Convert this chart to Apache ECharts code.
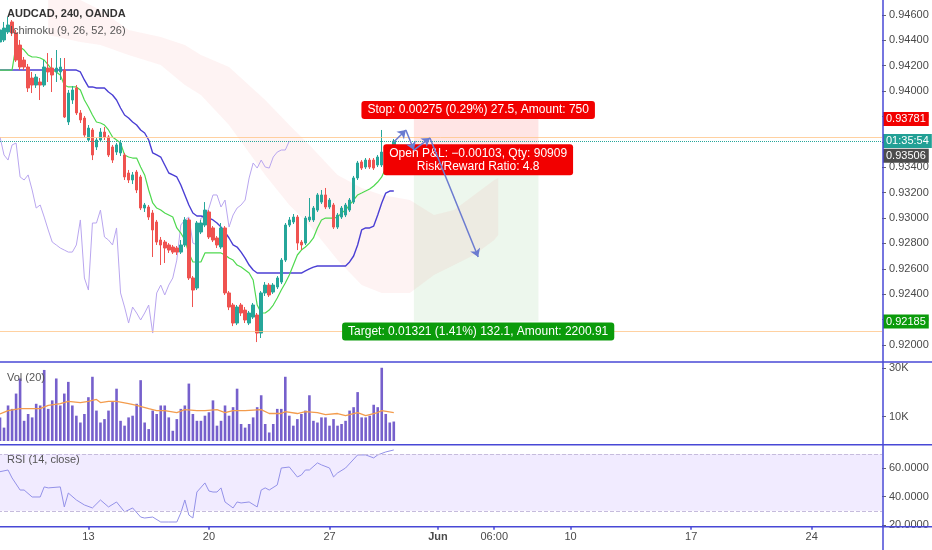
<!DOCTYPE html>
<html><head><meta charset="utf-8">
<script src="https://cdn.jsdelivr.net/npm/echarts@6/dist/echarts.min.js"></script>
<style>html,body{margin:0;padding:0;background:#fff}#c{width:932px;height:550px}</style>
</head><body><div id="c"></div>
<script>
// ---------- data (AUDCAD 240, OANDA) ----------
const opens = [0.94387,0.94403,0.94466,0.94545,0.94458,0.94363,0.94245,0.94190,0.94103,0.94048,
 0.94072,0.94048,0.94182,0.94182,0.94151,0.94151,0.94166,0.93757,0.93930,0.94025,
 0.93828,0.93788,0.93615,0.93694,0.93560,0.93615,0.93678,0.93639,0.93560,0.93520,
 0.93513,0.93497,0.93355,0.93300,0.93363,0.93324,0.93079,0.93087,0.93040,0.92969,
 0.92827,0.92811,0.92788,0.92772,0.92764,0.92732,0.92788,0.92985,0.92528,0.92449,
 0.92890,0.92945,0.93048,0.92922,0.92843,0.92772,0.92922,0.92410,0.92315,0.92173,
 0.92315,0.92275,0.92173,0.92220,0.92236,0.92094,0.92410,0.92472,0.92417,0.92457,
 0.92496,0.92669,0.92945,0.92969,0.93008,0.92811,0.92803,0.92985,0.92985,0.93063,
 0.93126,0.93182,0.93087,0.93103,0.92929,0.93008,0.93024,0.93063,0.93126,0.93316,
 0.93442,0.93402,0.93457,0.93457,0.93418,0.93418,0.93473,0.93497,0.93560];
const closes = [0.94482,0.94497,0.94521,0.94458,0.94245,0.94190,0.94190,0.94025,0.94048,0.94111,
 0.94048,0.94190,0.94151,0.94127,0.94182,0.94190,0.93796,0.93985,0.94009,0.93828,
 0.93773,0.93654,0.93709,0.93497,0.93615,0.93678,0.93639,0.93497,0.93457,0.93576,
 0.93591,0.93324,0.93300,0.93340,0.93221,0.93079,0.93103,0.93008,0.92906,0.92811,
 0.92788,0.92764,0.92748,0.92732,0.92732,0.92788,0.92985,0.92528,0.92433,0.92961,
 0.92961,0.93063,0.92851,0.92827,0.92788,0.92922,0.92410,0.92299,0.92173,0.92299,
 0.92252,0.92197,0.92252,0.92315,0.92094,0.92410,0.92472,0.92394,0.92472,0.92528,
 0.92669,0.92945,0.92985,0.93008,0.92803,0.92788,0.93000,0.93008,0.93079,0.93182,
 0.93182,0.93087,0.93142,0.92929,0.93024,0.93079,0.93103,0.93142,0.93316,0.93434,
 0.93394,0.93457,0.93402,0.93394,0.93481,0.93520,0.93536,0.93536,0.93607];
const highs = [0.94521,0.94545,0.94584,0.94560,0.94482,0.94403,0.94269,0.94214,0.94151,0.94135,
 0.94103,0.94245,0.94300,0.94261,0.94324,0.94261,0.94261,0.94009,0.94040,0.94048,
 0.93851,0.93804,0.93733,0.93709,0.93631,0.93709,0.93717,0.93654,0.93576,0.93591,
 0.93615,0.93513,0.93379,0.93363,0.93379,0.93340,0.93119,0.93103,0.93063,0.92985,
 0.92851,0.92827,0.92803,0.92788,0.92780,0.92827,0.93008,0.93000,0.92543,0.92977,
 0.92985,0.93126,0.93063,0.92937,0.92858,0.92961,0.92937,0.92425,0.92331,0.92315,
 0.92331,0.92299,0.92268,0.92331,0.92252,0.92425,0.92496,0.92488,0.92488,0.92543,
 0.92685,0.92961,0.93008,0.93032,0.93024,0.92827,0.93016,0.93158,0.93095,0.93197,
 0.93221,0.93237,0.93158,0.93119,0.93040,0.93095,0.93119,0.93158,0.93332,0.93450,
 0.93457,0.93473,0.93473,0.93473,0.93497,0.93694,0.93552,0.93560,0.93623];
const lows = [0.94363,0.94387,0.94450,0.94434,0.94230,0.94166,0.94166,0.93993,0.93985,0.94025,
 0.93930,0.94033,0.94072,0.93993,0.94072,0.94088,0.93788,0.93733,0.93899,0.93812,
 0.93749,0.93639,0.93599,0.93457,0.93536,0.93599,0.93615,0.93481,0.93434,0.93497,
 0.93489,0.93300,0.93276,0.93268,0.93197,0.93063,0.93048,0.92985,0.92693,0.92788,
 0.92630,0.92646,0.92725,0.92717,0.92709,0.92717,0.92772,0.92512,0.92299,0.92433,
 0.92874,0.92929,0.92835,0.92811,0.92764,0.92756,0.92394,0.92275,0.92149,0.92157,
 0.92228,0.92173,0.92157,0.92205,0.92023,0.92055,0.92386,0.92378,0.92402,0.92441,
 0.92480,0.92654,0.92929,0.92953,0.92748,0.92748,0.92788,0.92969,0.92969,0.93048,
 0.93111,0.93071,0.93071,0.92914,0.92914,0.92993,0.93008,0.93048,0.93111,0.93300,
 0.93379,0.93387,0.93387,0.93379,0.93402,0.93402,0.93457,0.93481,0.93544];

// Ichimoku lines
const tenkan = [0.94166,0.94166,0.94166,0.94166,0.94363,0.94348,0.94324,0.94285,0.94269,0.94269,
 0.94261,0.94245,0.94206,0.94166,0.94151,0.94127,0.94048,0.94033,0.94033,0.94033,
 0.94009,0.93930,0.93875,0.93812,0.93757,0.93749,0.93733,0.93694,0.93639,0.93615,
 0.93591,0.93497,0.93481,0.93473,0.93473,0.93402,0.93340,0.93221,0.93119,0.93079,
 0.93063,0.93040,0.93024,0.93008,0.92922,0.92882,0.92827,0.92725,0.92654,0.92654,
 0.92654,0.92725,0.92725,0.92725,0.92725,0.92725,0.92709,0.92685,0.92669,0.92630,
 0.92614,0.92591,0.92567,0.92512,0.92315,0.92252,0.92252,0.92275,0.92315,0.92370,
 0.92433,0.92488,0.92551,0.92630,0.92709,0.92748,0.92772,0.92803,0.92843,0.92922,
 0.92985,0.93000,0.93000,0.93000,0.93008,0.93040,0.93063,0.93103,0.93142,0.93182,
 0.93197,0.93213,0.93229,0.93253,0.93284,0.93324,0.93394,0.93457,0.93497];
const kijun = [0.94166,0.94166,0.94166,0.94166,0.94166,0.94166,0.94166,0.94166,0.94166,0.94166,
 0.94166,0.94166,0.94166,0.94166,0.94166,0.94166,0.94166,0.94166,0.94166,0.94166,
 0.94151,0.94088,0.94033,0.94033,0.94025,0.94025,0.94025,0.93993,0.93970,0.93930,
 0.93867,0.93812,0.93788,0.93757,0.93733,0.93694,0.93670,0.93615,0.93513,0.93497,
 0.93481,0.93418,0.93355,0.93340,0.93324,0.93260,0.93182,0.93103,0.93040,0.93016,
 0.93016,0.93008,0.93000,0.92985,0.92961,0.92929,0.92890,0.92843,0.92788,0.92772,
 0.92732,0.92685,0.92630,0.92591,0.92567,0.92567,0.92567,0.92567,0.92567,0.92567,
 0.92567,0.92567,0.92567,0.92567,0.92567,0.92567,0.92583,0.92599,0.92614,0.92622,
 0.92622,0.92622,0.92622,0.92622,0.92622,0.92622,0.92622,0.92654,0.92701,0.92788,
 0.92906,0.92922,0.92922,0.92937,0.93024,0.93119,0.93197,0.93213,0.93213];
const chikouShift = 26;
const cloudIdx   = [12,20,25,32,40,46,50,57,66,72,77,84,90,95,102,108,113,118,123,124];
const cloudUpper = [0.94718,0.94718,0.94639,0.94482,0.94427,0.94363,0.94285,0.94190,0.93930,0.93733,
 0.93576,0.93340,0.93237,0.93182,0.93142,0.93024,0.93063,0.93182,0.93300,0.93316];
const cloudLower = [0.94442,0.94387,0.94363,0.94285,0.94206,0.94048,0.93970,0.93733,0.93340,0.93103,
 0.92945,0.92669,0.92472,0.92410,0.92410,0.92551,0.92630,0.92709,0.92827,0.92866];

// Volume
const volumes = [9700,5500,14600,13200,19500,25700,8300,11100,9700,15300,
 14600,29200,13200,16700,25700,14600,19500,24300,14600,10400,
 7600,11100,18000,26400,12500,7600,9000,12500,16000,21500,
 8300,6300,9700,10400,15300,25000,7600,4900,12500,11100,
 14600,14600,9700,4200,9000,13200,14600,23600,11100,8300,
 8300,10400,11800,16700,6300,8300,14600,10400,13900,21500,
 7000,5500,7000,9700,13900,18800,7000,3500,7000,13200,
 13200,26400,10400,6300,9000,11100,12500,18800,8300,7600,
 9700,9700,6300,9000,6300,7000,8300,12500,13900,20100,
 9700,9700,10400,14900,13900,30100,11100,7600,8000];
const volMaIdx = [0,2,5,7,10,12,15,17,20,22,24,25,27,29,32,34,37,39,41,44,46,49,51,54,56,58,61,65,67,70,71,74,76,79,81,84,86,89,91,94,95,98];
const volMaVal = [11100,12500,13300,13300,13300,14600,15400,16300,15800,16300,17100,15800,16300,16300,15400,14600,13300,12500,12500,11700,
 12900,12500,12500,12900,11700,12500,12500,12900,11300,11300,12100,11300,12100,11700,10800,11300,10400,11700,10400,11700,12500,11700];

// RSI (14, close)
const rsiIdx = [0,2,3,5,6,8,10,11,12,15,16,17,19,21,23,25,27,29,31,33,35,36,38,40,42,44,45,46,47,48,49,51,52,53,54,55,56,58,59,60,62,64,65,66,67,69,70,72,74,75,76,77,79,80,82,83,84,86,89,91,93,94,96,98];
const rsiVal = [57.5,58.7,53.1,44.6,44.6,39.7,39.7,46.8,46.1,46.8,32.7,42.5,37.6,34.1,32.0,37.6,32.7,36.2,29.2,32.0,
 25.6,24.9,25.6,22.1,22.1,22.1,28.5,37.6,27.0,24.9,43.2,49.6,43.9,43.2,43.2,46.1,36.2,32.0,36.2,35.5,
 36.2,32.7,44.6,46.1,44.6,48.2,60.1,60.8,53.8,55.2,58.7,58.7,63.7,62.3,60.1,53.8,56.6,60.1,69.3,69.3,
 67.2,69.3,71.4,72.8];

// Long position tool + forecast path
const stopPrice = 0.93781, entryPrice = 0.93506, targetPrice = 0.92185;
const toolStartIdx = 103, toolEndIdx = 134, toolLabelIdx = 119;
const stopText = 'Stop: 0.00275 (0.29%) 27.5, Amount: 750';
const pnlText = 'Open P&L: \u22120.00103, Qty: 90909\nRisk/Reward Ratio: 4.8';
const targetText = 'Target: 0.01321 (1.41%) 132.1, Amount: 2200.91';
const hLines = [0.93639, 0.92110];
const countdown = '01:35:54';
const pathIdx = [98, 101, 103, 107, 119];
const pathPrice = [0.93599, 0.93694, 0.93536, 0.93631, 0.92693];

// Axes
const SLOTS = 220;
const tickIdx = [22, 52, 82, 109, 123, 142, 172, 202];
const tickLabels = ['13', '20', '27', 'Jun', '06:00', '10', '17', '24'];
const priceTicks = [0.920,0.922,0.924,0.926,0.928,0.930,0.932,0.934,0.936,0.938,0.940,0.942,0.944,0.946];
const volTicks = [10000, 30000];
const rsiTicks = [20, 40, 60];

// ---------- chart ----------
const FONT = 'Liberation Sans, Arial, sans-serif';
const AX = '#4848d6';
const TXT = '#4a4a4a';
const cats = Array.from({length: SLOTS}, (_, i) => String(i));
const tickSet = new Set(tickIdx);
const candleData = opens.map((o, i) => [o, closes[i], lows[i], highs[i]]);
const chikou = closes.slice(chikouShift);

const chart = echarts.init(document.getElementById('c'), null, {renderer: 'canvas'});
const gridBase = {left: -2, right: 50, outerBoundsMode: 'none', containLabel: false};
const hiddenX = (g) => ({type: 'category', gridIndex: g, data: cats, boundaryGap: true,
  axisLine: {show: false}, axisTick: {show: false}, axisLabel: {show: false}, splitLine: {show: false}});
const yBase = (g, min, max, ticks, fmt) => ({
  type: 'value', gridIndex: g, position: 'right', min: min, max: max, scale: true,
  splitLine: {show: false}, axisLine: {show: false},
  axisTick: {show: true, length: 4, customValues: ticks, lineStyle: {color: '#666'}},
  axisLabel: {customValues: ticks, formatter: fmt, color: TXT, fontSize: 11, fontFamily: FONT, margin: 7}
});
const priceTag = (price, text, bg, offY) => ({
  yAxis: price, lineStyle: {color: 'rgba(0,0,0,0)', width: 0},
  label: {show: true, position: 'end', formatter: text, distance: 1, offset: [0, offY || 0],
    backgroundColor: bg, color: '#fff', fontSize: 11, fontFamily: FONT, padding: [2, 3, 1, 3], opacity: 1}
});
const toolLabel = (price, text, bg, offY) => ({
  coord: [toolLabelIdx, price], symbol: 'rect', symbolSize: 0,
  label: {show: true, position: 'inside', offset: [0, offY], formatter: text, color: '#fff',
    backgroundColor: bg, fontSize: 12, fontFamily: FONT, lineHeight: 13, align: 'center',
    padding: [3, 6, 2, 6], borderRadius: 3}
});

chart.setOption({
  animation: false,
  backgroundColor: '#ffffff',
  textStyle: {fontFamily: FONT},
  title: [
    {text: 'AUDCAD, 240, OANDA', left: 7, top: 8, padding: 0, textStyle: {fontSize: 11, fontWeight: 'bold', color: '#333', fontFamily: FONT}},
    {text: 'Ichimoku (9, 26, 52, 26)', left: 10, top: 25, padding: 0, textStyle: {fontSize: 11, fontWeight: 'normal', color: '#555', fontFamily: FONT}},
    {text: 'Vol (20)', left: 7, top: 372, padding: 0, textStyle: {fontSize: 11, fontWeight: 'normal', color: '#555', fontFamily: FONT}},
    {text: 'RSI (14, close)', left: 7, top: 454, padding: 0, textStyle: {fontSize: 11, fontWeight: 'normal', color: '#555', fontFamily: FONT}}
  ],
  grid: [
    Object.assign({top: 0, height: 362}, gridBase),
    Object.assign({top: 362, height: 82.7}, gridBase),
    Object.assign({top: 444.7, height: 82}, gridBase)
  ],
  xAxis: [
    hiddenX(0), hiddenX(1),
    {type: 'category', gridIndex: 2, data: cats, boundaryGap: true,
      axisLine: {show: false}, splitLine: {show: false},
      axisTick: {show: true, alignWithLabel: true, length: 3, interval: (i) => tickSet.has(i), lineStyle: {color: AX, width: 1.5}},
      axisLabel: {interval: (i) => tickSet.has(i), margin: 5, color: TXT, fontSize: 11, fontFamily: FONT,
        formatter: (v) => { const k = tickIdx.indexOf(Number(v)); const t = k >= 0 ? tickLabels[k] : ''; return t === 'Jun' ? '{b|' + t + '}' : t; },
        rich: {b: {fontWeight: 'bold', fontSize: 11, color: TXT, fontFamily: FONT}}}}
  ],
  yAxis: [
    yBase(0, 0.91866, 0.94718, priceTicks, (v) => v.toFixed(5)),
    yBase(1, -1520, 32470, volTicks, (v) => Math.round(v / 1000) + 'K'),
    yBase(2, 18.8, 76.5, rsiTicks, (v) => v.toFixed(4))
  ],
  graphic: [
    {type: 'line', shape: {x1: 883, y1: 0, x2: 883, y2: 550}, style: {stroke: AX, lineWidth: 1.5}, z: 50},
    {type: 'line', shape: {x1: 0, y1: 362, x2: 932, y2: 362}, style: {stroke: AX, lineWidth: 1.5}, z: 50},
    {type: 'line', shape: {x1: 0, y1: 444.7, x2: 932, y2: 444.7}, style: {stroke: AX, lineWidth: 1.5}, z: 50},
    {type: 'line', shape: {x1: 0, y1: 526.7, x2: 932, y2: 526.7}, style: {stroke: AX, lineWidth: 1.5}, z: 50}
  ],
  series: [
    { // Kumo cloud
      type: 'custom', name: 'cloud', xAxisIndex: 0, yAxisIndex: 0, z: 1, silent: true,
      data: [[cloudIdx[0], cloudUpper[0]]],
      renderItem: (params, api) => {
        const pts = [];
        for (let k = 0; k < cloudIdx.length; k++) pts.push(api.coord([cloudIdx[k], cloudUpper[k]]));
        for (let k = cloudIdx.length - 1; k >= 0; k--) pts.push(api.coord([cloudIdx[k], cloudLower[k]]));
        return {type: 'polygon', shape: {points: pts}, style: {fill: 'rgba(240,70,70,0.065)'}};
      },
      markArea: {silent: true, data: [
        [{xAxis: toolStartIdx, yAxis: stopPrice, itemStyle: {color: 'rgba(255,0,0,0.10)'}}, {xAxis: toolEndIdx, yAxis: entryPrice}],
        [{xAxis: toolStartIdx, yAxis: entryPrice, itemStyle: {color: 'rgba(0,140,0,0.07)'}}, {xAxis: toolEndIdx, yAxis: targetPrice}]
      ]}
    },
    {type: 'line', name: 'Lagging', xAxisIndex: 0, yAxisIndex: 0, z: 3, data: chikou, showSymbol: false, symbol: 'none',
      lineStyle: {color: '#b9a6ef', width: 1}},
    {type: 'line', name: 'Base', xAxisIndex: 0, yAxisIndex: 0, z: 3, data: kijun, showSymbol: false, symbol: 'none',
      lineStyle: {color: '#4b3fd4', width: 1.4}},
    {type: 'line', name: 'Conversion', xAxisIndex: 0, yAxisIndex: 0, z: 3, data: tenkan, showSymbol: false, symbol: 'none',
      lineStyle: {color: '#4fd94f', width: 1.2}},
    {type: 'candlestick', name: 'AUDCAD', xAxisIndex: 0, yAxisIndex: 0, z: 4, data: candleData, barWidth: 3,
      itemStyle: {color: '#26a69a', color0: '#ef5350', borderColor: '#26a69a', borderColor0: '#ef5350', borderWidth: 1}},
    {type: 'line', name: 'marks', xAxisIndex: 0, yAxisIndex: 0, z: 6, silent: true,
      data: [[closes.length - 1, closes[closes.length - 1]]], symbol: 'none', lineStyle: {width: 0},
      markLine: {silent: true, symbol: ['none', 'none'], precision: 5, data: [
        {yAxis: hLines[0], lineStyle: {color: '#ffc58a', width: 1, type: 'solid', opacity: 0.8}, label: {show: false}},
        {yAxis: hLines[1], lineStyle: {color: '#ffc58a', width: 1, type: 'solid', opacity: 0.8}, label: {show: false}},
        Object.assign(priceTag(closes[closes.length - 1], countdown, '#22a095'), {lineStyle: {color: '#26a69a', width: 1, type: 'dotted'}}),
        priceTag(stopPrice, stopPrice.toFixed(5), '#f20000'),
        priceTag(entryPrice, entryPrice.toFixed(5), '#4d4d4d', 2),
        priceTag(targetPrice, targetPrice.toFixed(5), '#0b9b0b')
      ]},
      markPoint: {silent: true, data: [
        toolLabel(stopPrice, stopText, '#f20000', -9),
        toolLabel(entryPrice, pnlText, '#f20000', 6),
        toolLabel(targetPrice, targetText, '#0b9b0b', 10)
      ]}
    },
    {type: 'lines', name: 'path', coordinateSystem: 'cartesian2d', xAxisIndex: 0, yAxisIndex: 0, z: 7, silent: true,
      symbol: ['none', 'arrow'], symbolSize: 8,
      lineStyle: {color: '#6b7bd0', width: 1.5, opacity: 1},
      data: pathIdx.slice(0, -1).map((x, k) => ({coords: [[x, pathPrice[k]], [pathIdx[k + 1], pathPrice[k + 1]]]}))},
    {type: 'bar', name: 'Volume', xAxisIndex: 1, yAxisIndex: 1, data: volumes, barWidth: 2.6,
      itemStyle: {color: '#7660cc'}},
    {type: 'line', name: 'Vol MA', xAxisIndex: 1, yAxisIndex: 1, z: 3, showSymbol: false, symbol: 'none',
      data: volMaIdx.map((x, k) => [x, volMaVal[k]]), lineStyle: {color: '#f39c4d', width: 1.3}},
    {type: 'line', name: 'RSI', xAxisIndex: 2, yAxisIndex: 2, z: 3, showSymbol: false, symbol: 'none',
      data: rsiIdx.map((x, k) => [x, rsiVal[k]]), lineStyle: {color: '#9391e8', width: 1},
      markArea: {silent: true, itemStyle: {color: 'rgba(150,100,255,0.13)'}, data: [[{yAxis: 30}, {yAxis: 70}]]},
      markLine: {silent: true, symbol: ['none', 'none'], label: {show: false},
        lineStyle: {color: '#c6bcdc', type: 'dashed', width: 1}, data: [{yAxis: 70}, {yAxis: 30}]}}
  ]
});
</script>
</body></html>
